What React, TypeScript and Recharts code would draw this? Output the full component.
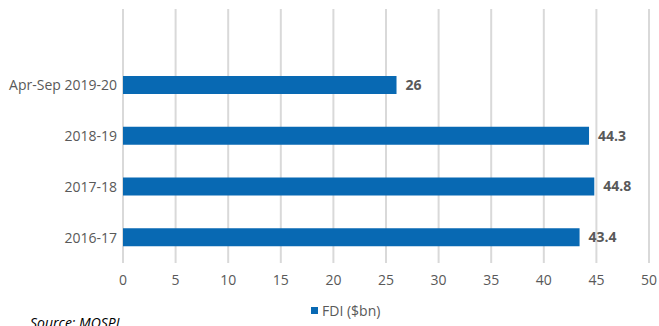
import React from "react";
import { BarChart, Bar, XAxis, YAxis, CartesianGrid, LabelList } from "recharts";

const categories = ["Apr-Sep 2019-20", "2018-19", "2017-18", "2016-17"];
const fdiValues = [26, 44.3, 44.8, 43.4];
const xTicks = [0, 5, 10, 15, 20, 25, 30, 35, 40, 45, 50];
const seriesName = "FDI ($bn)";
const sourceText = "Source: MOSPI";

const data = categories.map((c, i) => ({ name: c, fdi: fdiValues[i] }));

const FONT = "'Open Sans', 'Noto Sans', sans-serif";
const GRAY = "#595959";
const BLUE = "#0869b3";

export default function App() {
  return (
    <div style={{ position: "absolute", left: 0, top: 0, width: 659, height: 326, background: "#fff", overflow: "hidden" }}>
      <BarChart
        width={659}
        height={326}
        data={data}
        layout="vertical"
        margin={{ top: 9, right: 10, bottom: 33, left: 0 }}
        style={{ fontFamily: FONT }}
      >
        <CartesianGrid horizontal={false} stroke="#d9d9d9" strokeWidth={2} />
        <XAxis
          type="number"
          domain={[0, 50]}
          ticks={xTicks}
          axisLine={false}
          tickLine={false}
          tickMargin={6}
          height={30}
          tick={{ fill: GRAY, fontSize: 14, fontFamily: FONT }}
        />
        <YAxis
          type="category"
          dataKey="name"
          width={123}
          axisLine={false}
          tickLine={false}
          tickSize={0}
          tickMargin={6}
          padding={{ top: 51, bottom: 0 }}
          tick={{ fill: GRAY, fontSize: 14, fontFamily: FONT }}
        />
        <Bar dataKey="fdi" name={seriesName} fill={BLUE} barSize={18} isAnimationActive={false}>
          <LabelList dataKey="fdi" position="right" offset={9} fill={GRAY} fontSize={14} fontWeight="bold" fontFamily={FONT} />
        </Bar>
      </BarChart>
      <div
        style={{
          position: "absolute",
          left: 311,
          top: 301,
          display: "flex",
          alignItems: "center",
          fontFamily: FONT,
          fontSize: 14,
          color: GRAY,
          whiteSpace: "nowrap",
        }}
      >
        <span style={{ display: "inline-block", width: 7, height: 7, background: BLUE, marginRight: 4 }} />
        <span>{seriesName}</span>
      </div>
      <div
        style={{
          position: "absolute",
          left: 30,
          top: 313,
          fontFamily: FONT,
          fontStyle: "italic",
          fontSize: 14,
          color: "#000",
          whiteSpace: "nowrap",
        }}
      >
        {sourceText}
      </div>
    </div>
  );
}
